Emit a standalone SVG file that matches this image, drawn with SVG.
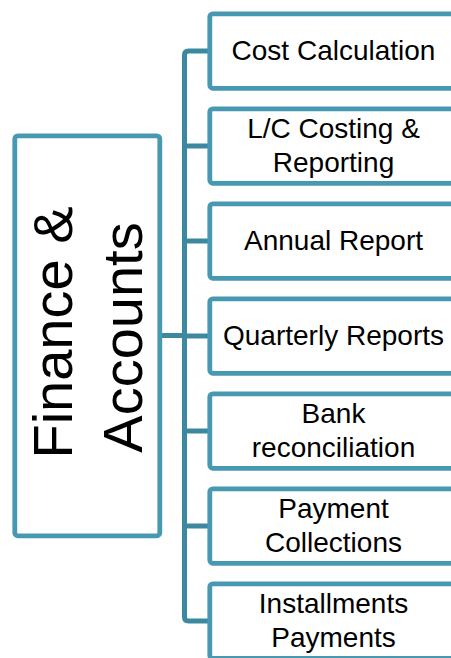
<svg xmlns="http://www.w3.org/2000/svg" width="451" height="658" viewBox="0 0 451 658">
  <style>
    .box { fill: #ffffff; stroke: #4799B2; stroke-width: 4.8; }
    .link { fill: none; stroke: #3C899F; stroke-width: 5; stroke-linejoin: round; }
    .lbl { font-family: "Liberation Sans", Arial, sans-serif; font-size: 28px; fill: #000000; text-anchor: middle; }
    .big { font-family: "Liberation Sans", Arial, sans-serif; font-size: 56px; fill: #000000; text-anchor: middle; }
  </style>
  <rect width="451" height="658" fill="#ffffff"/>

  <!-- connectors: root stub, trunk and branch stubs -->
  <g id="connectors">
    <path class="link" d="M160 335.5 H184.5"/>
    <path class="link" d="M210 51 H188.5 Q184.5 51 184.5 55 V617 Q184.5 621 188.5 621 H210"/>
    <path class="link" d="M184.5 146 H210"/>
    <path class="link" d="M184.5 241 H210"/>
    <path class="link" d="M184.5 336 H210"/>
    <path class="link" d="M184.5 431 H210"/>
    <path class="link" d="M184.5 526 H210"/>
  </g>

  <!-- root node -->
  <g id="finance-accounts">
    <rect class="box" x="14.8" y="135.8" width="145" height="400" rx="3"/>
    <g transform="translate(0 335) rotate(-90)">
      <text class="big" x="2.5" y="72">Finance &amp;</text>
      <text class="big" x="-2.5" y="142">Accounts</text>
    </g>
  </g>

  <g id="cost-calculation">
    <rect class="box" x="209.8" y="13.8" width="260" height="74.5" rx="3"/>
    <text class="lbl" x="333.5" y="60">Cost Calculation</text>
  </g>

  <g id="lc-costing">
    <rect class="box" x="209.8" y="108.8" width="260" height="74.5" rx="3"/>
    <text class="lbl" x="333.5" y="137.7">L/C Costing &amp;</text>
    <text class="lbl" x="333.5" y="171.7">Reporting</text>
  </g>

  <g id="annual-report">
    <rect class="box" x="209.8" y="203.8" width="260" height="74.5" rx="3"/>
    <text class="lbl" x="333.5" y="250">Annual Report</text>
  </g>

  <g id="quarterly-reports">
    <rect class="box" x="209.8" y="298.8" width="260" height="74.5" rx="3"/>
    <text class="lbl" x="333.5" y="345">Quarterly Reports</text>
  </g>

  <g id="bank-reconciliation">
    <rect class="box" x="209.8" y="393.8" width="260" height="74.5" rx="3"/>
    <text class="lbl" x="333.5" y="422.7">Bank</text>
    <text class="lbl" x="333.5" y="456.7">reconciliation</text>
  </g>

  <g id="payment-collections">
    <rect class="box" x="209.8" y="488.8" width="260" height="74.5" rx="3"/>
    <text class="lbl" x="333.5" y="517.7">Payment</text>
    <text class="lbl" x="333.5" y="551.7">Collections</text>
  </g>

  <g id="installments-payments">
    <rect class="box" x="209.8" y="583.8" width="260" height="74.5" rx="3"/>
    <text class="lbl" x="333.5" y="612.7">Installments</text>
    <text class="lbl" x="333.5" y="646.7">Payments</text>
  </g>
</svg>
